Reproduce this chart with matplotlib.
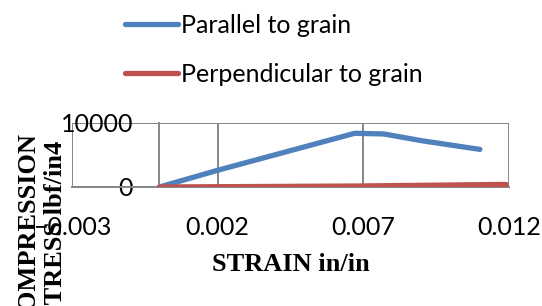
import numpy as np
import matplotlib.pyplot as plt

# strain (in/in) vs compression stress (lbf/in4)
strain_par = [0.0, 0.002, 0.0067, 0.0077, 0.009, 0.011]
stress_par = [0, 2600, 8350, 8250, 7200, 5850]
strain_perp = [0.0, 0.0067, 0.0119]
stress_perp = [0, 150, 400]
xticks = [-0.003, 0.002, 0.007, 0.012]
yticks = [0, 10000]

blue = '#4F81BD'
red = '#C0504D'
grid = '#868686'
sans = ['Lato', 'DejaVu Sans']
serif = ['Liberation Serif', 'DejaVu Serif']

fig = plt.figure(figsize=(5.42, 3.06), dpi=100)
ax = fig.add_axes([72/542, 1-187/306, (509-72)/542, (187-122.7)/306])

ax.plot(strain_par, stress_par, color=blue, lw=3.8, solid_capstyle='round',
        label='Parallel to grain', zorder=3)
ax.plot(strain_perp, stress_perp, color=red, lw=3.8, solid_capstyle='round',
        label='Perpendicular to grain', zorder=3)

ax.set_xlim(-0.003, 0.012)
ax.set_ylim(0, 10000)
ax.set_xticks(xticks)
ax.set_xticklabels([f'{v:g}' if v >= 0 else f'\u2212{abs(v):g}' for v in xticks])
ax.set_yticks(yticks)
ax.grid(True, color=grid, lw=1.4)
ax.set_axisbelow(True)

for s in ['top', 'right']:
    ax.spines[s].set_visible(False)
ax.spines['left'].set_position(('data', 0))
ax.spines['left'].set_color(grid)
ax.spines['bottom'].set_color(grid)
ax.spines['left'].set_linewidth(1.4)
ax.spines['bottom'].set_linewidth(1.4)
ax.tick_params(axis='both', length=0, labelsize=18)
ax.tick_params(axis='x', pad=21)
ax.tick_params(axis='y', pad=19)
for t in ax.get_xticklabels() + ax.get_yticklabels():
    t.set_family(sans)

ax.set_xlabel('STRAIN in/in', fontsize=19, fontweight='bold', family=serif, labelpad=10)

fig.text(42/542, 1-230/306, 'COMPRESSION\nSTRESS lbf/in4', rotation=90,
         ha='center', va='center', multialignment='center',
         fontsize=19, fontweight='bold', family=serif, linespacing=1.2)

fig.legend(loc='upper left', bbox_to_anchor=(125/542, 0.955), frameon=False,
           prop={'family': sans, 'size': 18}, handlelength=2.1,
           handletextpad=0.15, labelspacing=1.05, borderpad=0, borderaxespad=0)

fig.savefig('out.png', dpi=100)
